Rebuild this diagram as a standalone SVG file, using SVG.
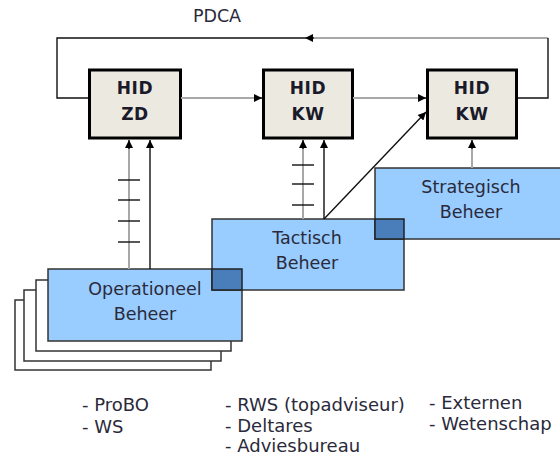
<svg xmlns="http://www.w3.org/2000/svg" width="560" height="456" viewBox="0 0 560 456">
<defs>
<marker id="ah" viewBox="0 0 10 10" refX="10" refY="5" markerWidth="9" markerHeight="8" markerUnits="userSpaceOnUse" orient="auto"><path d="M0,0 L10,5 L0,10 z" fill="#000"/></marker>
<style>
.hid{fill:#ECE9E0;stroke:#000;stroke-width:3}
.hidt{font-family:"DejaVu Sans",Verdana,sans-serif;font-weight:bold;font-size:17px;fill:#1a1a2a;text-anchor:middle;letter-spacing:0.6px}
.blue{fill:#99CCFF;stroke:#333;stroke-width:1.5}
.ov{fill:#4A7EBB}
.edge{fill:none;stroke:#222;stroke-width:1.5}
.stack{fill:#fff;stroke:#333;stroke-width:1.5}
.t{font-family:"DejaVu Sans",Verdana,sans-serif;font-size:17.5px;fill:#2a2a3a}
.n{font-size:18px}
.tc{text-anchor:middle}
.bl{fill:none;stroke:#111;stroke-width:1.4}
.gr{fill:none;stroke:#a8a8a8;stroke-width:2}
.tick{stroke:#111;stroke-width:1.4}
</style>
</defs>
<rect width="560" height="456" fill="#fff"/>
<text class="t tc" x="217" y="22">PDCA</text>

<g id="operationeel">
<rect class="stack" x="15" y="300" width="196" height="70"/>
<rect class="stack" x="24" y="290" width="197" height="71"/>
<rect class="stack" x="36" y="280" width="195" height="71"/>
<rect class="blue" x="48" y="269" width="194" height="72"/>
<text class="t tc" x="145" y="295">Operationeel</text>
<text class="t tc" x="145" y="320">Beheer</text>
</g>

<g id="tactisch">
<rect class="blue" x="212" y="219" width="192" height="71"/>
<text class="t tc" x="307" y="244">Tactisch</text>
<text class="t tc" x="307" y="269">Beheer</text>
</g>

<g id="strategisch">
<rect class="blue" x="375" y="168" width="195" height="71"/>
<text class="t tc" x="471" y="193">Strategisch</text>
<text class="t tc" x="471" y="218">Beheer</text>
</g>

<g id="overlaps">
<rect class="ov" x="212" y="269" width="30" height="21"/>
<rect class="edge" x="212" y="269" width="30" height="21"/>
<rect class="ov" x="375" y="219" width="29" height="20"/>
<rect class="edge" x="375" y="219" width="29" height="20"/>
</g>

<g id="hid-zd">
<rect class="hid" x="89.5" y="70" width="91" height="68"/>
<text class="hidt" x="135" y="94">HID</text>
<text class="hidt" x="135" y="120">ZD</text>
</g>
<g id="hid-kw-1">
<rect class="hid" x="263.5" y="70" width="89" height="68"/>
<text class="hidt" x="308" y="94">HID</text>
<text class="hidt" x="308" y="120">KW</text>
</g>
<g id="hid-kw-2">
<rect class="hid" x="427.5" y="70" width="89" height="68"/>
<text class="hidt" x="472" y="94">HID</text>
<text class="hidt" x="472" y="120">KW</text>
</g>

<g id="connectors">
<path class="gr" d="M548,38 L313,38"/>
<path class="bl" d="M314,38 L305,38" marker-end="url(#ah)"/>
<path class="bl" d="M305,38 L57,38 L57,98 L88,98"/>
<path class="bl" d="M518,98 L548,98 L548,38"/>
<path class="gr" d="M181,98 L255,98"/>
<path class="bl" d="M254,98 L262,98" marker-end="url(#ah)"/>
<path class="gr" d="M353,98 L419,98"/>
<path class="bl" d="M418,98 L426,98" marker-end="url(#ah)"/>

<path class="gr" d="M129,269 L129,148"/>
<path class="bl" d="M129,149 L129,140" marker-end="url(#ah)"/>
<path class="bl" d="M150,269 L150,140" marker-end="url(#ah)"/>
<line class="tick" x1="118" y1="180" x2="140" y2="180"/>
<line class="tick" x1="118" y1="200" x2="140" y2="200"/>
<line class="tick" x1="118" y1="221" x2="140" y2="221"/>
<line class="tick" x1="118" y1="242" x2="140" y2="242"/>

<path class="gr" d="M303,219 L303,148"/>
<path class="bl" d="M303,149 L303,140" marker-end="url(#ah)"/>
<path class="bl" d="M324,219 L324,140" marker-end="url(#ah)"/>
<line class="tick" x1="292" y1="165" x2="314" y2="165"/>
<line class="tick" x1="292" y1="184" x2="314" y2="184"/>
<line class="tick" x1="292" y1="205" x2="314" y2="205"/>

<path class="bl" d="M324,219 L426,112" marker-end="url(#ah)"/>

<path class="gr" d="M472,168 L472,148"/>
<path class="bl" d="M472,149 L472,140" marker-end="url(#ah)"/>
</g>

<g id="notes">
<text class="t n" x="82" y="411">- ProBO</text>
<text class="t n" x="82" y="433">- WS</text>
<text class="t n" x="225" y="411">- RWS (topadviseur)</text>
<text class="t n" x="225" y="432">- Deltares</text>
<text class="t n" x="225" y="452">- Adviesbureau</text>
<text class="t n" x="429" y="409">- Externen</text>
<text class="t n" x="429" y="430">- Wetenschap</text>
</g>
</svg>
